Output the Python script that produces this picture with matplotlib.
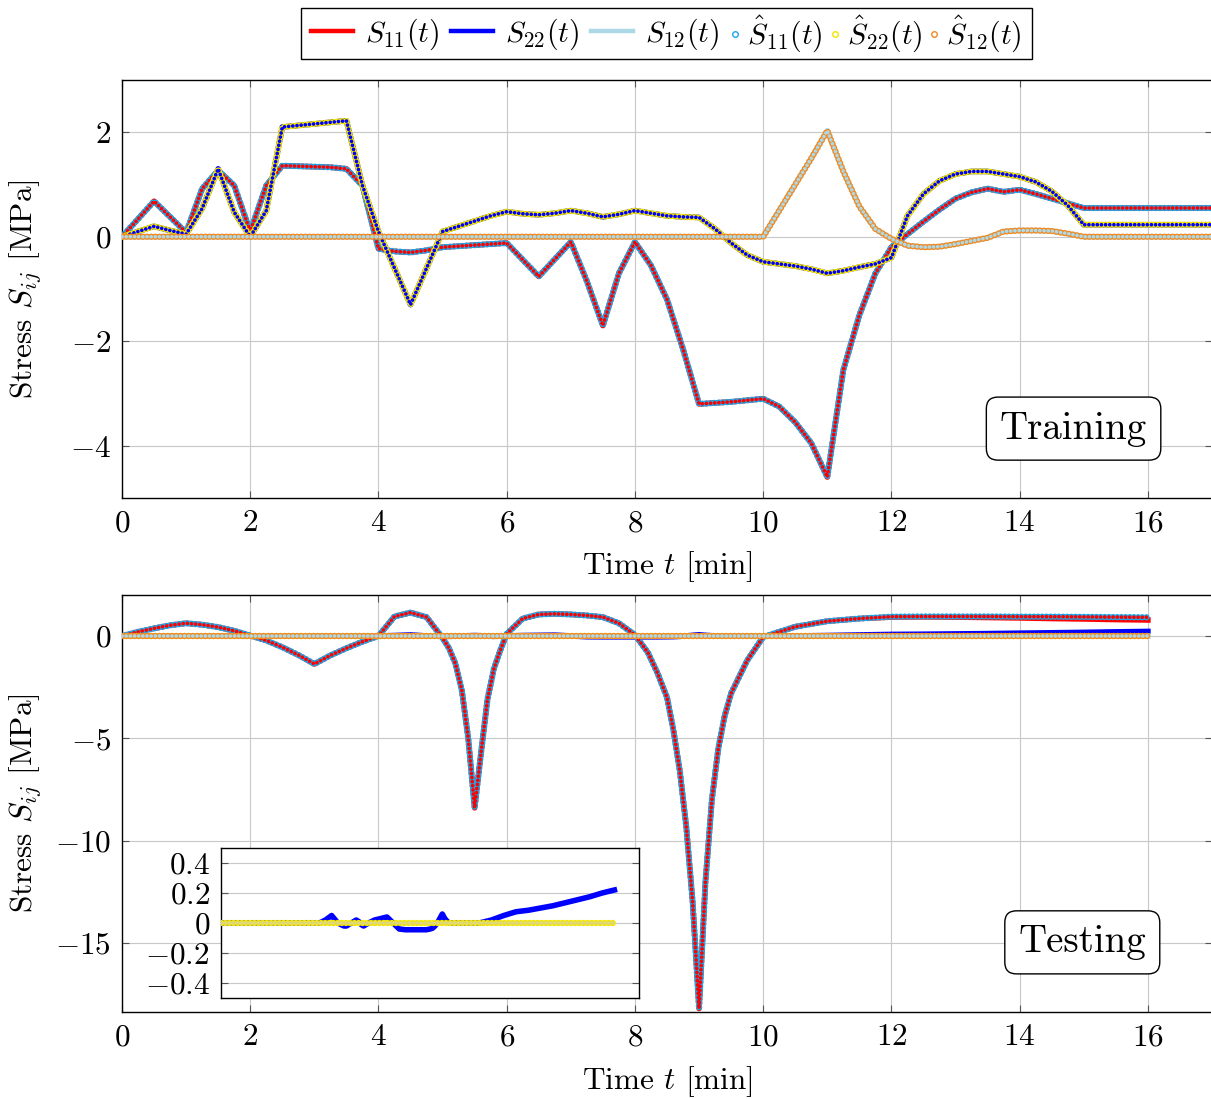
import numpy as np
import matplotlib
matplotlib.use("Agg")
import matplotlib.pyplot as plt
from matplotlib.lines import Line2D
from matplotlib.patches import Rectangle

# ---------------- data ----------------
# training run, one value every 0.25 min from 0 to 17
t_train = np.arange(0, 17.25, 0.25)

s11_train = [0.0, 0.34, 0.68, 0.38, 0.08, 0.92, 1.27, 0.98, 0.10, 0.98,
             1.36, 1.35, 1.34, 1.33, 1.30, 0.98, -0.23, -0.28, -0.30, -0.26,
             -0.20, -0.18, -0.16, -0.14, -0.12, -0.44, -0.76, -0.43, -0.10, -0.85,
             -1.70, -0.70, -0.10, -0.55, -1.20, -2.15, -3.20, -3.18, -3.16, -3.13,
             -3.10, -3.25, -3.55, -3.95, -4.60, -2.55, -1.50, -0.70, -0.20, 0.05,
             0.29, 0.52, 0.73, 0.85, 0.92, 0.86, 0.90, 0.82, 0.73, 0.64,
             0.55, 0.55, 0.55, 0.55, 0.55, 0.55, 0.55, 0.55, 0.55]

s22_train = [0.0, 0.10, 0.20, 0.12, 0.05, 0.54, 1.30, 0.47, 0.0, 0.50,
             2.10, 2.13, 2.16, 2.19, 2.22, 0.98, 0.10, -0.60, -1.30, -0.60,
             0.10, 0.20, 0.30, 0.40, 0.48, 0.44, 0.42, 0.45, 0.50, 0.45,
             0.38, 0.43, 0.50, 0.45, 0.40, 0.38, 0.37, 0.15, -0.12, -0.35,
             -0.48, -0.52, -0.56, -0.62, -0.70, -0.65, -0.58, -0.52, -0.40, 0.40,
             0.82, 1.07, 1.20, 1.25, 1.25, 1.20, 1.15, 1.05, 0.87, 0.60,
             0.23, 0.23, 0.23, 0.23, 0.23, 0.23, 0.23, 0.23, 0.23]

s12_train = [0.0] * 41 + [0.50, 1.00, 1.50, 2.03, 1.25, 0.58, 0.15, -0.04, -0.17, -0.20,
                          -0.19, -0.14, -0.08, -0.02, 0.10, 0.12, 0.12, 0.11, 0.06, 0.0] + [0.0] * 8

# the network output lies on top of the reference curves in training
s11_hat_train = list(s11_train)
s22_hat_train = list(s22_train)
s12_hat_train = list(s12_train)

# testing run, 0 to 16 min (denser around the two sharp dips)
t_test = [0, 0.25, 0.5, 0.75, 1, 1.25, 1.5, 1.75, 2, 2.25, 2.5, 2.75, 3, 3.25, 3.5, 3.75,
          4, 4.25, 4.5, 4.75, 5, 5.1, 5.2, 5.3, 5.4, 5.5, 5.6, 5.7, 5.8, 5.9, 6,
          6.25, 6.5, 6.75, 7, 7.25, 7.5, 7.75, 8, 8.2, 8.35, 8.5, 8.6, 8.7, 8.8, 8.9,
          9, 9.1, 9.2, 9.3, 9.4, 9.5, 9.75, 10, 10.5, 11, 11.5, 12, 12.5, 13, 13.5,
          14, 14.5, 15, 15.5, 16]

s11_test = [0.0, 0.20, 0.37, 0.52, 0.62, 0.55, 0.43, 0.25, 0.02, -0.22, -0.55, -0.93, -1.37,
            -0.95, -0.60, -0.28, 0.0, 0.95, 1.14, 0.92, -0.10,
            -0.60, -1.35, -2.65, -5.00, -8.40, -5.70, -3.10, -1.60, -0.70, 0.10,
            0.85, 1.05, 1.08, 1.05, 1.00, 0.92, 0.62, 0.05,
            -0.80, -1.80, -3.00, -4.60, -6.60, -9.30, -13.0, -18.2, -12.0, -8.0, -5.5,
            -3.9, -2.8, -1.2, -0.05,
            0.45, 0.72, 0.85, 0.92, 0.93, 0.92, 0.90, 0.88, 0.85, 0.83, 0.80, 0.78]

s11_hat_test = s11_test[:57] + [0.94, 0.95, 0.95, 0.95, 0.94, 0.94, 0.93, 0.92, 0.91]

s22_test = [0.0] * 17 + [0.02, 0.05, 0.0, -0.02,
            -0.02, -0.01, 0.0, 0.01, 0.02, 0.01, -0.01, -0.02, -0.01, 0.0,
            0.02, 0.03, 0.04, 0.0, -0.04, -0.045, -0.045, -0.045,
            -0.045, -0.045, -0.04, -0.035, -0.02, 0.0, 0.03, 0.06, 0.03, 0.01, 0.0,
            0.0, 0.0, 0.0, 0.0,
            0.0, 0.02, 0.05, 0.075, 0.085, 0.10, 0.115, 0.135, 0.155, 0.175, 0.20, 0.22]

s12_test = [0.0] * 66
s22_hat_test = [0.0] * 66
s12_hat_test = [0.0] * 66

# ---------------- style ----------------
plt.rcParams.update({
    "font.family": "serif",
    "font.serif": ["cmr10"],
    "mathtext.fontset": "cm",
    "axes.formatter.use_mathtext": True,
    "axes.unicode_minus": True,
    "font.size": 22.5,
    "lines.scale_dashes": False,
})

C_S11, C_S22, C_S12 = "#ff0000", "#0000ff", "#add8e6"
C_H11, C_H22, C_H12 = "#1ea6e6", "#f2e600", "#f28a22"
LW = 4.0
FS = 22.5

W, H = 1211, 1099


def px_box(l, t, r, b):
    return [l / W, 1 - b / H, (r - l) / W, (b - t) / H]


def hat_band(ax, t, y, ring, fill, z):
    # chain of hollow circle markers along the curve
    period = 3.0
    ax.plot(t, y, color=ring, lw=4.6, ls=(0, (0.01, period - 0.01)),
            dash_capstyle="round", zorder=z)
    ax.plot(t, y, color=fill, lw=2.7, ls=(0, (0.01, period - 0.01)),
            dash_capstyle="round", zorder=z + 0.1)


def style_axes(ax):
    ax.grid(True, color="#c8c8c8", lw=0.8)
    ax.set_axisbelow(True)
    ax.tick_params(direction="in", length=5, width=0.8, color="#555555",
                   top=True, right=True, labelsize=FS, pad=8)
    for s in ax.spines.values():
        s.set_linewidth(1.0)


fig = plt.figure(figsize=(W / 100, H / 100), dpi=100)

# ---------------- training ----------------
ax1 = fig.add_axes(px_box(122, 80, 1212, 498))
ax1.plot(t_train, s11_train, color=C_S11, lw=LW, solid_joinstyle="round", zorder=2)
ax1.plot(t_train, s22_train, color=C_S22, lw=LW, solid_joinstyle="round", zorder=2)
ax1.plot(t_train, s12_train, color=C_S12, lw=LW, solid_joinstyle="round", zorder=2)
hat_band(ax1, t_train, s11_hat_train, C_H11, C_S11, 3)
hat_band(ax1, t_train, s22_hat_train, C_H22, C_S22, 3.2)
hat_band(ax1, t_train, s12_hat_train, C_H12, C_S12, 3.4)
ax1.set_xlim(0, 17)
ax1.set_ylim(-5, 3)
ax1.set_xticks(range(0, 17, 2))
ax1.set_yticks([-4, -2, 0, 2])
style_axes(ax1)
ax1.set_xlabel(r"Time $t$ [min]", fontsize=FS)
ax1.set_ylabel(r"Stress $S_{ij}$ [MPa]", fontsize=FS)
ax1.xaxis.set_label_coords(0.5, -0.122)
ax1.yaxis.set_label_coords(-0.072, 0.5)
ax1.text(0.873, 0.166, "Training", transform=ax1.transAxes, ha="center", va="center",
         fontsize=28, zorder=10,
         bbox=dict(boxstyle="round,pad=0.35,rounding_size=0.3", fc="white", ec="black", lw=1.0))

# ---------------- testing ----------------
ax2 = fig.add_axes(px_box(122, 595, 1212, 1012))
ax2.plot(t_test, s11_test, color=C_S11, lw=LW, solid_joinstyle="round", zorder=2)
ax2.plot(t_test, s22_test, color=C_S22, lw=LW, solid_joinstyle="round", zorder=2)
ax2.plot(t_test, s12_test, color=C_S12, lw=LW, solid_joinstyle="round", zorder=2)
hat_band(ax2, t_test, s11_hat_test, C_H11, C_S11, 3)
hat_band(ax2, t_test, s22_hat_test, C_H22, C_S12, 3.2)
hat_band(ax2, t_test, s12_hat_test, C_H12, C_S12, 3.4)
ax2.set_xlim(0, 17)
ax2.set_ylim(-18.37, 2)
ax2.set_xticks(range(0, 17, 2))
ax2.set_yticks([-15, -10, -5, 0])
style_axes(ax2)
ax2.set_xlabel(r"Time $t$ [min]", fontsize=FS)
ax2.set_ylabel(r"Stress $S_{ij}$ [MPa]", fontsize=FS)
ax2.xaxis.set_label_coords(0.5, -0.125)
ax2.yaxis.set_label_coords(-0.072, 0.5)
ax2.text(0.881, 0.167, "Testing", transform=ax2.transAxes, ha="center", va="center",
         fontsize=28, zorder=10,
         bbox=dict(boxstyle="round,pad=0.35,rounding_size=0.3", fc="white", ec="black", lw=1.0))

# inset: S22 in the testing run
axin = fig.add_axes(px_box(221, 848, 639, 998))
axin.plot(t_test, s22_test, color=C_S22, lw=LW, solid_joinstyle="round", zorder=2)
hat_band(axin, t_test, s22_hat_test, C_H22, "#ddd68a", 3)
axin.set_xlim(0, 17)
axin.set_ylim(-0.5, 0.5)
axin.set_xticks([])
axin.set_yticks([-0.4, -0.2, 0, 0.2, 0.4])
axin.set_yticklabels([r"$-0.4$", r"$-0.2$", r"$0$", r"$0.2$", r"$0.4$"])
axin.grid(True, axis="y", color="#c8c8c8", lw=0.8)
axin.set_axisbelow(True)
axin.tick_params(axis="y", direction="in", length=5, width=0.8, color="#555555",
                 right=True, labelsize=FS, pad=8)
for s in axin.spines.values():
    s.set_linewidth(1.0)

# ---------------- legend ----------------
LFS = 21.5
line_h = [Line2D([], [], color=c, lw=3.2) for c in (C_S11, C_S22, C_S12)]
line_l = [r"$S_{11}(t)$", r"$S_{22}(t)$", r"$S_{12}(t)$"]
mark_h = [Line2D([], [], ls="none", marker="o", ms=4, mfc="none", mec=c, mew=1.0)
          for c in (C_H11, C_H22, C_H12)]
mark_l = [r"$\hat{S}_{11}(t)$", r"$\hat{S}_{22}(t)$", r"$\hat{S}_{12}(t)$"]

ly = 1 - 34 / H
leg1 = fig.legend(line_h, line_l, loc="center left", bbox_to_anchor=(0, ly), ncol=3,
                  frameon=False, handlelength=1.4, handletextpad=0.4, columnspacing=0.4,
                  borderpad=0.2, borderaxespad=0, fontsize=LFS)
leg2 = fig.legend(mark_h, mark_l, loc="center left", bbox_to_anchor=(0, ly), ncol=3,
                  frameon=False, handlelength=0.3, handletextpad=0.25, columnspacing=0.25,
                  borderpad=0.2, borderaxespad=0, fontsize=LFS)
fig.canvas.draw()
r = fig.canvas.get_renderer()
b1 = leg1.get_window_extent(r)
b2 = leg2.get_window_extent(r)
total = b1.width + b2.width
x0 = 666.5 - total / 2
leg1.set_bbox_to_anchor((x0 / W, ly), transform=fig.transFigure)
leg2.set_bbox_to_anchor(((x0 + b1.width) / W, ly), transform=fig.transFigure)
fig.add_artist(Rectangle(((x0 - 4) / W, 1 - 59 / H), (total + 8) / W, 51 / H,
                         transform=fig.transFigure, fill=False, ec="black", lw=1.0))

fig.savefig("out.png", dpi=100)
